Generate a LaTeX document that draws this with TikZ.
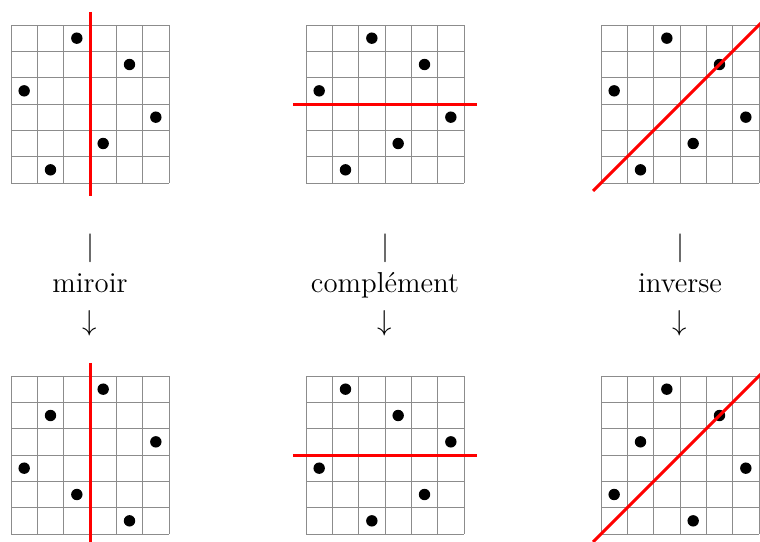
\documentclass[tikz,border=0pt]{standalone}
\usepackage{fontspec}
\begin{document}
\begin{tikzpicture}[x=0.5pt,y=-0.5pt,
  gridline/.style={draw=black!45,line width=0.5pt},
  redline/.style={draw=red,line width=1.5pt},
  dot/.style={fill=black},
  lab/.style={anchor=base,inner sep=0pt,font=\fontsize{14.4}{17}\selectfont}]
\useasboundingbox (0,0) rectangle (760,541);
\clip (0,0) rectangle (760,541);
\def\cellsz{26.333}
\newcommand{\permgrid}[3]{%
  \foreach \i in {0,...,6}{%
    \draw[gridline] ({#1+\i*\cellsz},#2) -- ({#1+\i*\cellsz},{#2+6*\cellsz});
    \draw[gridline] (#1,{#2+\i*\cellsz}) -- ({#1+6*\cellsz},{#2+\i*\cellsz});
  }%
  \foreach \col [count=\r from 0] in {#3}{%
    \fill[dot] ({#1+(\col+0.5)*\cellsz},{#2+(\r+0.5)*\cellsz}) circle[radius=2.85pt];
  }%
}
% top row: original permutation
\permgrid{11}{25}{2,4,0,5,3,1}
\permgrid{306}{25}{2,4,0,5,3,1}
\permgrid{601}{25}{2,4,0,5,3,1}
% bottom row
\permgrid{11}{376}{3,1,5,0,2,4}
\permgrid{306}{376}{1,3,5,0,4,2}
\permgrid{601}{376}{2,4,1,5,0,3}
% symmetry axes
\draw[redline] (90,{25-13.2}) -- (90,{25+171.2});
\draw[redline] (90,{376-13.2}) -- (90,{376+171.2});
\draw[redline] ({306-13.2},104) -- ({306+171.2},104);
\draw[redline] ({306-13.2},455) -- ({306+171.2},455);
\draw[redline] ({601-7.9},{25+165.9}) -- ({601+165.9},{25-7.9});
\draw[redline] ({601-7.9},{376+165.9}) -- ({601+165.9},{376-7.9});
% labels
\node[lab] (barA) at (90,255) {$|$};
\node[lab] (labA) at (90,292) {miroir};
\node[lab] (arrA) at (90,330) {$\downarrow$};
\node[lab] (barB) at (385,255) {$|$};
\node[lab] (labB) at (385,292) {complément};
\node[lab] (arrB) at (385,330) {$\downarrow$};
\node[lab] (barC) at (680,255) {$|$};
\node[lab] (labC) at (680,292) {inverse};
\node[lab] (arrC) at (680,330) {$\downarrow$};
\end{tikzpicture}
\end{document}
